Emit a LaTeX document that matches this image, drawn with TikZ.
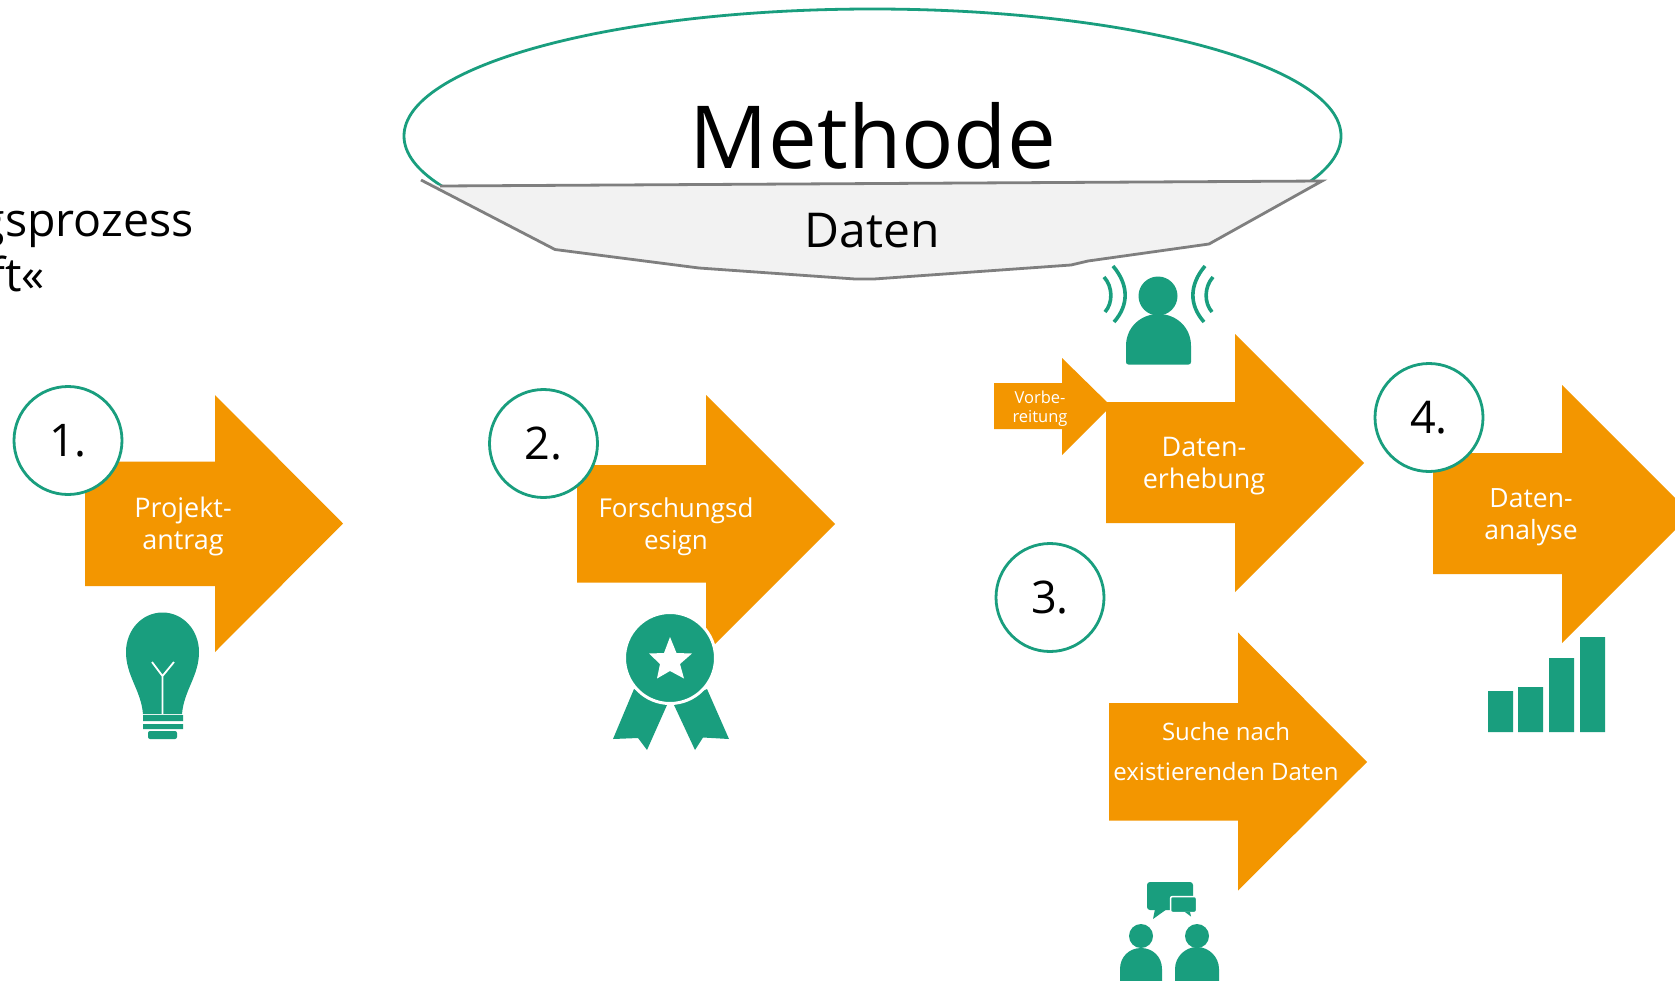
\documentclass[tikz,border=0pt]{standalone}
\usepackage{fontspec}
\setmainfont{Open Sans}
\definecolor{grn}{HTML}{199E7E}
\definecolor{org}{HTML}{F39600}
\definecolor{lgr}{HTML}{F2F2F2}
\definecolor{dgr}{HTML}{7F7F7F}
\tikzset{
  arrowshape/.style={fill=org,draw=none},
  icon/.style={fill=grn,draw=none},
  numcircle/.style={circle,draw=grn,line width=2.8pt,fill=white,minimum size=108pt,inner sep=0pt,font=\fontsize{45}{45}\selectfont,text=black},
  lab/.style={align=center,text=white,inner sep=0pt,font=\fontsize{27}{32}\selectfont},
  ttl/.style={text=black,inner sep=0pt},
}
\begin{document}
\begin{tikzpicture}[x=1pt,y=-1pt]
\path[use as bounding box,clip] (0,0) rectangle (1675,980);
\fill[white] (0,0) rectangle (1675,980);
% Methode
\draw[grn,line width=2.8pt,fill=white] (872.5,136) ellipse [x radius=468.5,y radius=127];
\node[ttl,font=\fontsize{87}{87}\selectfont] (methode) at (873,135.5) {Methode};
\path[fill=lgr] (421,180) -- (555,249.5) -- (699,268) -- (855,279) -- (874,279) -- (1071,265) -- (1088,261) -- (1209,244) -- (1322,181) -- (440,186) -- cycle;
\draw[dgr,line width=2.8pt] (421,180) -- (555,249.5) -- (699,268) -- (855,279) -- (874,279) -- (1071,265) -- (1088,261) -- (1209,244) -- (1322,181) -- (440,186);
\node[ttl,font=\fontsize{48}{48}\selectfont] (daten) at (872,231) {Daten};
% left title
\node[ttl,anchor=base east,font=\fontsize{46.5}{46.5}\selectfont] (t1) at (194,236) {gsprozess};
\node[ttl,anchor=base east,font=\fontsize{46.5}{46.5}\selectfont] (t2) at (45,291) {ft«};
% arrows
\path[arrowshape] (85,461.5) -- (215,461.5) -- (215,395) -- (343,523.5) -- (215,652) -- (215,586) -- (85,586) -- cycle;
\path[arrowshape] (577,465) -- (706,465) -- (706,395) -- (835,524) -- (706,653) -- (706,582.5) -- (577,582.5) -- cycle;
\path[arrowshape] (994,383) -- (1062,383) -- (1062,358) -- (1111,406) -- (1062,455) -- (1062,429) -- (994,429) -- cycle;
\path[arrowshape] (1106,402) -- (1235,402) -- (1235,334) -- (1364,463) -- (1235,592) -- (1235,523) -- (1106,523) -- cycle;
\path[arrowshape] (1109,703) -- (1238,703) -- (1238,632.5) -- (1367,762) -- (1238,890.5) -- (1238,820.5) -- (1109,820.5) -- cycle;
\path[arrowshape] (1433,453) -- (1562,453) -- (1562,385) -- (1691,514) -- (1562,643) -- (1562,574) -- (1433,574) -- cycle;
% labels
\node[lab] (l1) at (183,526.5) {Projekt-\\antrag};
\node[lab,font=\fontsize{26}{32}\selectfont] (l2) at (676,526.5) {Forschungsd\\esign};
\node[lab] (l3) at (1204,466) {Daten-\\erhebung};
\node[lab,font=\fontsize{16.5}{19}\selectfont] (l3a) at (1040,409) {Vorbe-\\reitung};
\node[lab,font=\fontsize{24}{40}\selectfont] (l3b) at (1226,751.5) {Suche nach\\existierenden Daten};
\node[lab,font=\fontsize{26.5}{32}\selectfont] (l4) at (1531,517) {Daten-\\analyse};
% circles
\node[numcircle] (n1) at (68,440.5) {1.};
\node[numcircle] (n2) at (543.5,443.5) {2.};
\node[numcircle] (n3) at (1050,597.5) {3.};
\node[numcircle] (n4) at (1429,417.5) {4.};
% bulb
\path[icon] (162.5,612.5) .. controls (142,612.5) and (126,630) .. (126,652)
  .. controls (126,676) and (141,690) .. (143,714) -- (182,714)
  .. controls (184,690) and (199,676) .. (199,652)
  .. controls (199,630) and (183,612.5) .. (162.5,612.5) -- cycle;
\draw[white,line width=1.8pt] (162.5,714) -- (162.5,676) (152,662) -- (162.5,676) -- (174,662);
\path[icon] (143,715) rectangle (183,721) (143,724) rectangle (183,729);
\path[icon,rounded corners=2pt] (148,731) rectangle (177,739);
% medal
\path[icon] (634,689) -- (613,739) -- (638,738) -- (647,750) -- (667,705) -- cycle;
\path[icon] (707,689) -- (729,739) -- (703,737.5) -- (695,750) -- (674,705) -- cycle;
\draw[icon,draw=white,line width=3pt] (670,658) circle [radius=45.5];
\path[fill=white] (670,637) -- (676.5,653) -- (692,653.5) -- (680,664) -- (684,678.5) -- (670,671) -- (657,678.5) -- (660,664) -- (649,653.5) -- (664,653) -- cycle;
% person with sound waves
\fill[grn] (1158,296) circle [radius=19.5];
\path[icon] (1126,362) -- (1126,346) .. controls (1126,327) and (1141,314) .. (1158.5,314)
  .. controls (1176,314) and (1191,327) .. (1191,346) -- (1191,362)
  .. controls (1191,363.5) and (1190,364.5) .. (1188.5,364.5) -- (1128.5,364.5)
  .. controls (1127,364.5) and (1126,363.5) .. (1126,362) -- cycle;
\draw[grn,line width=3.6pt] (1104,277) .. controls (1113,287) and (1113,303) .. (1105,312);
\draw[grn,line width=3.6pt] (1113,266) .. controls (1129,285) and (1129,305) .. (1114,322);
\draw[grn,line width=3.6pt] (1205,266) .. controls (1189,285) and (1189,305) .. (1204,322);
\draw[grn,line width=3.6pt] (1213,277) .. controls (1204,287) and (1204,303) .. (1212,312);
% chat people
\path[icon,rounded corners=3pt] (1147,882) rectangle (1193,910);
\path[icon] (1155,909) -- (1153,919) -- (1167,909) -- cycle;
\draw[icon,draw=white,line width=1.5pt,rounded corners=2pt] (1170.5,896.5) rectangle (1196.5,912.5);
\path[icon] (1185,912) -- (1191,916.5) -- (1190,912) -- cycle;
\fill[grn] (1141,936) circle [radius=12] (1197,936) circle [radius=12];
\path[icon] (1120,985) -- (1120,969) .. controls (1120,957) and (1129,948) .. (1141,948) .. controls (1153,948) and (1162,957) .. (1162,969) -- (1162,985) -- cycle;
\path[icon] (1175,985) -- (1175,969) .. controls (1175,957) and (1185,947) .. (1197,947) .. controls (1209,947) and (1219,957) .. (1219,969) -- (1219,985) -- cycle;
% bars
\path[icon] (1488,691) rectangle (1513,732) (1518,687) rectangle (1543,732) (1549,658) rectangle (1574,732) (1580,637) rectangle (1605,732);
\end{tikzpicture}
\end{document}
